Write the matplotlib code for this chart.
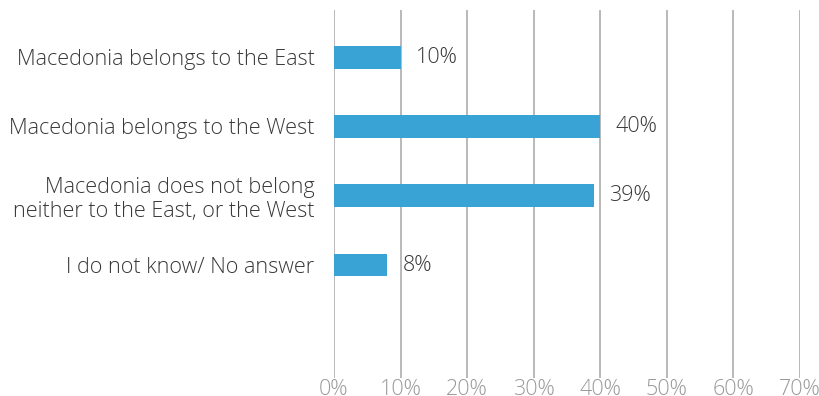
import matplotlib
matplotlib.use("Agg")
import matplotlib.pyplot as plt

categories = [
    "Macedonia belongs to the East",
    "Macedonia belongs to the West",
    "Macedonia does not belong\nneither to the East, or the West",
    "I do not know/ No answer",
]
values = [10, 40, 39, 8]
ticks = [0, 10, 20, 30, 40, 50, 60, 70]
tick_labels = [f"{t}%" for t in ticks]

plt.rcParams["font.family"] = ["Open Sans", "DejaVu Sans"]
plt.rcParams["font.weight"] = "light"

W, H = 819, 396
fig = plt.figure(figsize=(W / 100, H / 100), dpi=100)
ax = fig.add_axes([334 / W, 1 - 378 / H, (800 - 334) / W, (378 - 10) / H])

pos = list(range(len(categories)))
ax.barh(pos, values, height=0.33, color="#3aa3d6", zorder=3)

for p, v in zip(pos, values):
    ax.annotate(f"{v}%", xy=(v, p), xytext=(11, 0), textcoords="offset points",
                va="center", ha="left", fontsize=15.5, color="#383838")

ax.set_xlim(0, 70)
ax.set_ylim(4.63, -0.68)
ax.set_xticks(ticks)
ax.set_xticklabels(tick_labels, fontsize=15.5, color="#999999")
ax.set_yticks(pos)
ax.set_yticklabels(categories, fontsize=15.6, color="#383838", linespacing=1.17)
ax.tick_params(axis="both", length=0)
ax.tick_params(axis="y", pad=14)
ax.tick_params(axis="x", pad=1)

ax.grid(axis="x", color="#b3b3b3", linewidth=1.3, zorder=0)
for s in ax.spines.values():
    s.set_visible(False)

fig.savefig("out.png", dpi=100)
